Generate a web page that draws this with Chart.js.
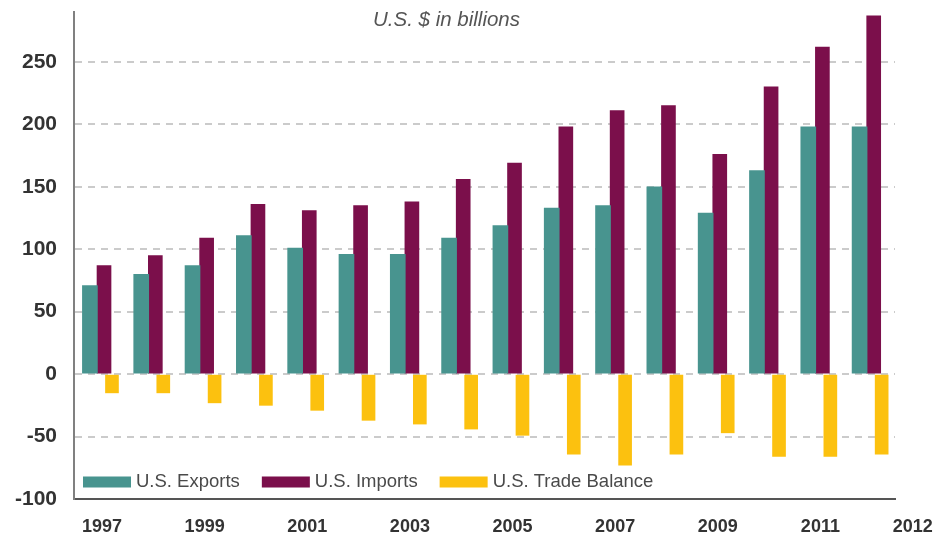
<!DOCTYPE html>
<html>
<head>
<meta charset="utf-8">
<script src="https://cdn.jsdelivr.net/npm/chart.js@4"></script>
<style>
  html, body { margin: 0; padding: 0; background: #fff; }
  #wrap { width: 938px; height: 538px; position: relative; }
</style>
</head>
<body>
<div id="wrap"><canvas id="tradeChart"></canvas></div>
<script>
// Yearly trade figures, US$ billions
const years = [1997, 1998, 1999, 2000, 2001, 2002, 2003, 2004, 2005, 2006, 2007, 2008, 2009, 2010, 2011, 2012];
const exportsData = [71, 80, 87, 111, 101, 96, 96, 109, 119, 133, 135, 150, 129, 163, 198, 198];
const importsData = [87, 95, 109, 136, 131, 135, 138, 156, 169, 198, 211, 215, 176, 230, 262, 287];
const balanceData = [-15, -15, -23, -25, -29, -37, -40, -44, -49, -64, -73, -64, -47, -66, -66, -64];

// x axis labels; the closing "2012" is set just past the final group
const tickYears = [1997, 1999, 2001, 2003, 2005, 2007, 2009, 2011, 2012.8];
const tickLabels = ['1997', '1999', '2001', '2003', '2005', '2007', '2009', '2011', '2012'];
const yTicks = [-100, -50, 0, 50, 100, 150, 200, 250];

const font = "'Liberation Sans', Arial, sans-serif";

// where each series sits inside a year slot (fraction of the slot)
const slotPos = { exports: 0.31, imports: 0.585, balance: 0.74 };

// legend row drawn inside the plot, along the bottom
const insideLegend = {
  id: 'insideLegend',
  afterDatasetsDraw(chart) {
    const { ctx, chartArea } = chart;
    let x = chartArea.left + 9;
    const y = chartArea.bottom - 17;
    ctx.save();
    ctx.font = '18.5px ' + font;
    ctx.textBaseline = 'middle';
    chart.data.datasets.forEach((ds) => {
      ctx.fillStyle = ds.backgroundColor;
      ctx.fillRect(x, y - 5.5, 48, 11);
      x += 53;
      ctx.fillStyle = '#4a4a4a';
      ctx.fillText(ds.label, x, y);
      x += ctx.measureText(ds.label).width + 22;
    });
    ctx.restore();
  },
};

// units caption near the top of the plot
const caption = {
  id: 'caption',
  afterDraw(chart) {
    const { ctx, chartArea } = chart;
    ctx.save();
    ctx.font = 'italic 20.5px ' + font;
    ctx.fillStyle = '#555';
    ctx.textBaseline = 'middle';
    ctx.fillText('U.S. $ in billions', chartArea.left + 299, chartArea.top + 8);
    ctx.restore();
  },
};

// one hidden x scale per series so each bar lands at its own spot in the slot
function slotScale(pos) {
  return {
    type: 'linear',
    axis: 'x',
    display: false,
    offset: false,
    min: years[0] - pos,
    max: years[0] - pos + years.length,
  };
}

const ctx = document.getElementById('tradeChart').getContext('2d');
const tradeChart = new Chart(ctx, {
  type: 'bar',
  data: {
    labels: years,
    datasets: [
      {
        label: 'U.S. Exports',
        data: exportsData,
        backgroundColor: '#48948f',
        xAxisID: 'xe',
        grouped: false,
        barThickness: 15,
      },
      {
        label: 'U.S. Imports',
        data: importsData,
        backgroundColor: '#7b0f4b',
        xAxisID: 'x',
        grouped: false,
        barThickness: 14,
      },
      {
        label: 'U.S. Trade Balance',
        data: balanceData,
        backgroundColor: '#fcc10f',
        xAxisID: 'xb',
        grouped: false,
        barThickness: 13,
      },
    ],
  },
  options: {
    responsive: true,
    maintainAspectRatio: false,
    animation: false,
    layout: { padding: { top: 12, right: 43, bottom: 0, left: 0 } },
    plugins: {
      legend: { display: false },
      title: { display: false },
      tooltip: { enabled: false },
    },
    scales: {
      // visible year axis (imports scale)
      x: {
        type: 'linear',
        offset: false,
        min: years[0] - slotPos.imports,
        max: years[0] - slotPos.imports + years.length,
        grid: { display: false, drawTicks: false, offset: false },
        border: { display: true, color: '#555', width: 2 },
        afterBuildTicks: (scale) => {
          scale.ticks = tickYears.map((v) => ({ value: v }));
        },
        afterFit: (scale) => {
          scale.height = 39;
          scale.paddingLeft = 0;
          scale.paddingRight = 0;
        },
        ticks: {
          autoSkip: false,
          maxRotation: 0,
          padding: 17,
          labelOffset: -2,
          color: '#333',
          font: { family: font, size: 18, weight: 'bold' },
          callback: (v, i) => tickLabels[i],
        },
      },
      xe: slotScale(slotPos.exports),
      xb: slotScale(slotPos.balance),
      y: {
        min: -100,
        max: 290,
        afterBuildTicks: (scale) => {
          scale.ticks = yTicks.map((v) => ({ value: v }));
        },
        afterFit: (scale) => {
          scale.width = 74;
          scale.paddingTop = 0;
          scale.paddingBottom = 0;
        },
        grid: {
          drawTicks: false,
          lineWidth: 2,
          color: (c) => (c.tick && c.tick.value === -100 ? 'rgba(0,0,0,0)' : '#cbcbcb'),
        },
        border: { display: true, color: '#808080', width: 2, dash: [7, 6] },
        ticks: {
          padding: 17,
          color: '#333',
          font: { family: font, size: 21, weight: 'bold' },
        },
      },
    },
  },
  plugins: [insideLegend, caption],
});
</script>
</body>
</html>
